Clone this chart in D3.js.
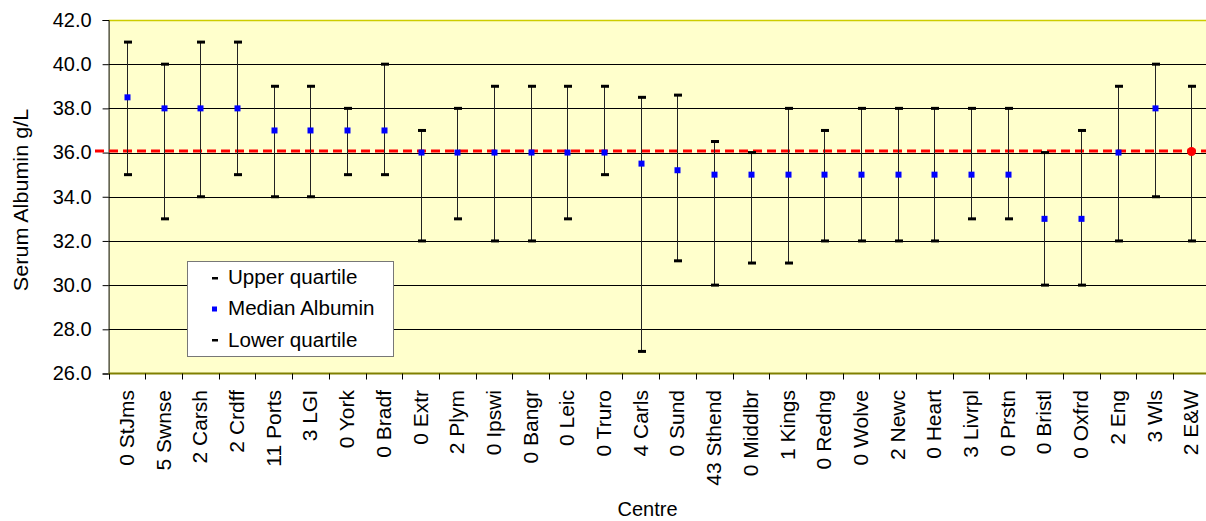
<!DOCTYPE html>
<html><head><meta charset="utf-8">
<script src="https://cdn.jsdelivr.net/npm/d3@7"></script>
<style>html,body{margin:0;padding:0;background:#fff;overflow:hidden}svg{display:block;font-family:"Liberation Sans",Arial,sans-serif}</style>
</head><body>
<svg id="c" width="1206" height="521"></svg>
<script>
const categories = ["0 StJms","5 Swnse","2 Carsh","2 Crdff","11 Ports","3 LGI","0 York","0 Bradf","0 Extr","2 Plym","0 Ipswi","0 Bangr","0 Leic","0 Truro","4 Carls","0 Sund","43 Sthend","0 Middlbr","1 Kings","0 Redng","0 Wolve","2 Newc","0 Heart","3 Livrpl","0 Prstn","0 Bristl","0 Oxfrd","2 Eng","3 Wls","2 E&W"];
const median = [38.5,38,38,38,37,37,37,37,36,36,36,36,36,36,35.5,35.2,35,35,35,35,35,35,35,35,35,33,33,36,38,36.05];
const upper  = [41,40,41,41,39,39,38,40,37,38,39,39,39,39,38.5,38.6,36.5,36,38,37,38,38,38,38,38,36,37,39,40,39];
const lower  = [35,33,34,35,34,34,35,35,32,33,32,32,33,35,27,31.1,30,31,31,32,32,32,32,33,33,30,30,32,34,32];
const yTicks = [26,28,30,32,34,36,38,40,42];
const referenceValue = 36.07;
const legendItems = ["Upper quartile","Median Albumin","Lower quartile"];

const FS = 20, SX = 1.05;
const svg = d3.select("#c");
const L = 108.6, R = 1209.6, T = 20, B = 373.5;
const x = d3.scaleBand().domain(categories).range([L, R]);
const y = d3.scaleLinear().domain([26, 42]).range([B, T]);

svg.append("rect").attr("x", L).attr("y", T).attr("width", R - L).attr("height", B - T).attr("fill", "#FFFFCC");

svg.append("g").selectAll("line").data(yTicks.filter(d => d > 26 && d < 42)).join("line")
  .attr("x1", L).attr("x2", R).attr("y1", d => Math.round(y(d)) + 0.5).attr("y2", d => Math.round(y(d)) + 0.5)
  .attr("stroke", "#000").attr("stroke-width", 1);

svg.append("line").attr("x1", L).attr("x2", R).attr("y1", T + 0.5).attr("y2", T + 0.5).attr("stroke", "#CCCC00").attr("stroke-width", 1.5);

const yAxis = d3.axisLeft(y).tickValues(yTicks).tickFormat(d3.format(".1f")).tickSize(6).tickPadding(11);
const gy = svg.append("g").attr("transform", `translate(${L},0)`).call(yAxis);
gy.select(".domain").attr("stroke", "#000");
gy.selectAll(".tick line").attr("stroke", "#000");
gy.selectAll("text").attr("font-size", FS).attr("fill", "#000").attr("font-family", '"Liberation Sans",Arial,sans-serif');

svg.append("line").attr("x1", L).attr("x2", R).attr("y1", B).attr("y2", B).attr("stroke", "#808000").attr("stroke-width", 2);
svg.append("g").selectAll("line").data(categories).join("line")
  .attr("x1", d => Math.round(x(d)) + 0.5).attr("x2", d => Math.round(x(d)) + 0.5)
  .attr("y1", B).attr("y2", B + 6).attr("stroke", "#000").attr("stroke-width", 1);

svg.append("g").selectAll("text").data(categories).join("text")
  .attr("transform", d => `translate(${x(d) + x.bandwidth() / 2 + 7},390) rotate(-90) scale(${SX},1)`)
  .attr("text-anchor", "end").attr("font-size", FS).attr("fill", "#000").text(d => d);

svg.append("text").attr("transform", `translate(28,200) rotate(-90) scale(1.08,1)`).attr("text-anchor", "middle")
  .attr("font-size", FS).attr("fill", "#000").text("Serum Albumin g/L");
svg.append("text").attr("x", 647.5).attr("y", 516).attr("text-anchor", "middle").attr("font-size", FS).attr("fill", "#000").text("Centre");

svg.append("line").attr("x1", 95).attr("x2", R).attr("y1", y(referenceValue)).attr("y2", y(referenceValue))
  .attr("stroke", "#FF0000").attr("stroke-width", 3).attr("stroke-dasharray", "9,5");

const cx = i => Math.round(x(categories[i]) + x.bandwidth() / 2);
const bars = svg.append("g");
categories.forEach((c, i) => {
  const xc = cx(i) + 0.5;
  bars.append("line").attr("x1", xc).attr("x2", xc).attr("y1", y(upper[i])).attr("y2", y(lower[i]))
    .attr("stroke", "#222").attr("stroke-width", 1);
  [upper[i], lower[i]].forEach(v => {
    bars.append("rect").attr("x", cx(i) - 3).attr("y", y(v) - 1.5).attr("width", 8).attr("height", 3).attr("fill", "#000");
  });
  if (i === categories.length - 1) {
    bars.append("circle").attr("cx", xc).attr("cy", y(median[i])).attr("r", 4.5).attr("fill", "#FF0000");
  } else {
    bars.append("rect").attr("x", cx(i) - 2.5).attr("y", y(median[i]) - 3).attr("width", 6).attr("height", 6).attr("fill", "#0000FF");
  }
});

const lg = svg.append("g").attr("transform", "translate(187,261)");
lg.append("rect").attr("x", 0.5).attr("y", 0.5).attr("width", 206).attr("height", 95).attr("fill", "#fff").attr("stroke", "#777").attr("stroke-width", 1);
const markY = [17, 48, 79];
const baseY = [23, 54, 85.5];
legendItems.forEach((t, i) => {
  if (i === 1) lg.append("rect").attr("x", 25).attr("y", markY[i] - 2.5).attr("width", 5).attr("height", 5).attr("fill", "#0000FF");
  else lg.append("rect").attr("x", 25).attr("y", markY[i] - 1).attr("width", 6).attr("height", 2.5).attr("fill", "#000");
  lg.append("text").attr("transform", `translate(41,${baseY[i]}) scale(1.03,1)`).attr("font-size", FS).attr("fill", "#000").text(t);
});
</script>
</body></html>
